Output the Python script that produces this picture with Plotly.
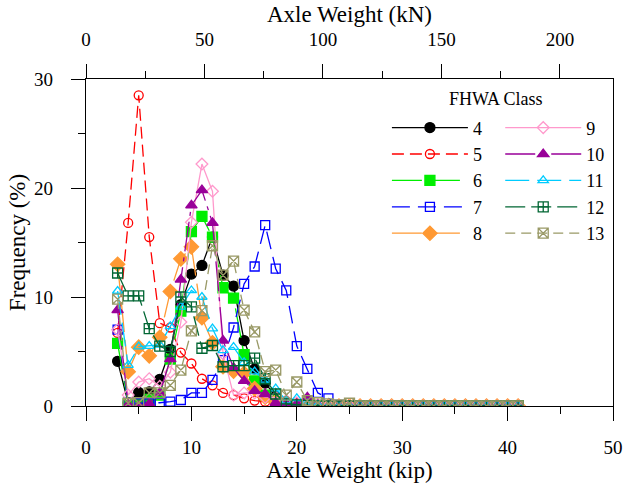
import plotly.graph_objects as go

# Axle weight bins (kip)
kip = list(range(3, 42))

def pad(vals):
    return vals + [0.0] * (len(kip) - len(vals))

class4 = pad([4.1, 0.3, 1.25, 1.3, 2.45, 5.2, 9.3, 12.1, 12.9, 15.5, 12.0, 11.0, 6.0, 3.4, 2.1, 0.9, 0.4, 0.2, 0.1, 0.05, 0.05])
class5 = pad([6.7, 16.8, 28.5, 15.5, 7.6, 7.2, 4.9, 3.9, 2.5, 1.9, 1.2, 1.0, 0.7, 0.5, 0.4, 0.25, 0.2, 0.1, 0.05])
class6 = pad([5.75, 0.2, 0.3, 0.6, 1.0, 4.3, 8.7, 16.0, 17.4, 15.5, 10.85, 9.9, 4.7, 2.3, 1.0, 0.5, 0.2, 0.1])
class7 = pad([7.0, 0.3, 0.25, 0.25, 0.3, 0.4, 0.55, 1.2, 1.2, 2.4, 4.2, 7.2, 11.2, 12.8, 16.6, 12.6, 10.6, 5.5, 3.4, 1.2, 0.7, 0.1])
class8 = pad([13.0, 3.15, 5.4, 4.6, 6.3, 10.5, 13.5, 14.6, 8.1, 5.8, 3.6, 3.2, 3.0, 1.6, 0.8, 0.4, 0.2, 0.1])
class9 = pad([7.0, 1.0, 2.2, 2.5, 1.8, 3.1, 7.7, 16.85, 22.2, 19.7, 4.8, 1.0, 1.2, 1.2, 0.8, 0.8, 0.5, 0.3, 0.2, 0.1])
class10 = pad([8.8, 0.1, 0.0, 0.2, 1.2, 4.3, 11.6, 18.4, 19.8, 16.8, 6.0, 3.5, 2.3, 1.4, 1.1, 0.3, 0.2, 0.2, 0.8, 0.1])
class11 = pad([10.55, 3.75, 5.45, 5.5, 5.6, 7.3, 9.1, 10.6, 10.0, 7.1, 5.1, 5.4, 4.0, 3.15, 2.4, 1.6, 0.5, 0.7, 0.2, 0.1])
class12 = pad([12.2, 10.1, 10.1, 7.1, 5.5, 5.0, 10.0, 9.1, 5.3, 5.55, 3.6, 3.7, 3.7, 4.4, 2.5, 1.1, 0.2, 0.1, 0.05])
class13 = pad([9.8, 0.25, 0.3, 1.2, 1.2, 1.9, 3.3, 6.9, 8.75, 14.7, 12.0, 13.3, 8.8, 6.8, 3.15, 3.3, 1.0, 2.2, 0.5, 0.3, 0.2, 0.1, 0.25])

class_names = ["4", "5", "6", "7", "8", "9", "10", "11", "12", "13"]
series = [class4, class5, class6, class7, class8, class9, class10, class11, class12, class13]

colors = ["#000000", "#FF0000", "#00EE00", "#0000FF", "#FF9933",
          "#FF99CC", "#990099", "#00CCFF", "#006633", "#999966"]
symbols = ["circle", "circle-open", "square", "square-open", "diamond",
           "diamond-open", "triangle-up", "triangle-up-open", "square-cross-open", "square-x-open"]
dashes = ["solid", "12px,6px", "30px,8px", "18px,8px", "30px,8px",
          "solid", "30px,6px,4px,6px", "24px,8px", "20px,6px", "10px,6px"]
sizes = [10, 9, 10, 9, 11, 9, 10, 9, 10, 10]
legend_ids = ["legend"] * 5 + ["legend2"] * 5

KIP_TO_KN = 4.448

fig = go.Figure()
for name, vals, c, s, d, sz, lg in zip(class_names, series, colors, symbols, dashes, sizes, legend_ids):
    fig.add_trace(go.Scatter(
        x=kip, y=vals, name=name, mode="lines+markers",
        line=dict(color=c, width=1.3, dash=d),
        marker=dict(symbol=s, size=sz, color=c, line=dict(color=c, width=1.3)),
        legend=lg,
    ))

font = "Liberation Serif, Times New Roman, serif"
legend_common = dict(
    orientation="v", xanchor="left", yanchor="top",
    itemwidth=76, font=dict(size=18), bgcolor="rgba(0,0,0,0)",
    traceorder="normal", tracegroupgap=0,
)
fig.update_layout(
    width=626, height=485,
    margin=dict(l=86, r=13, t=79, b=79),
    plot_bgcolor="white", paper_bgcolor="white",
    font=dict(family=font, size=19, color="black"),
    showlegend=True,
    legend=dict(x=0.571, y=0.907, **legend_common),
    legend2=dict(x=0.786, y=0.907, **legend_common),
    annotations=[dict(text="FHWA Class", x=0.778, y=0.94, xref="paper", yref="paper",
                      showarrow=False, font=dict(size=18), xanchor="center", yanchor="middle")],
    xaxis=dict(
        range=[0, 50], dtick=10, tick0=0, automargin=False,
        showline=True, linecolor="black", linewidth=1.2,
        ticks="outside", ticklen=14, tickcolor="black", ticklabelstandoff=10,
        minor=dict(dtick=5, ticks="outside", ticklen=7, tickcolor="black"),
        showgrid=False, zeroline=False,
        title=dict(text="Axle Weight (kip)", standoff=0),
    ),
    xaxis2=dict(
        range=[0, 50 * KIP_TO_KN], dtick=50, tick0=0, automargin=False,
        overlaying="x", side="top", anchor="y",
        showline=True, linecolor="black", linewidth=1.2,
        ticks="outside", ticklen=14, tickcolor="black", ticklabelstandoff=10,
        minor=dict(dtick=25, ticks="outside", ticklen=7, tickcolor="black"),
        showgrid=False, zeroline=False,
        title=dict(text="Axle Weight (kN)", standoff=0),
    ),
    yaxis=dict(
        range=[0, 30], dtick=10, automargin=False,
        showline=True, linecolor="black", linewidth=1.2, mirror=True,
        ticks="outside", ticklen=14, tickcolor="black", ticklabelstandoff=14,
        minor=dict(dtick=5, ticks="outside", ticklen=7, tickcolor="black"),
        showgrid=False, zeroline=False,
        title=dict(text="Frequency (%)", standoff=2),
    ),
)
# invisible helper trace to activate the top (kN) axis
fig.add_trace(go.Scatter(x=[0, 50 * KIP_TO_KN], y=[None, None], xaxis="x2", yaxis="y",
                         showlegend=False, hoverinfo="skip", mode="markers",
                         marker=dict(opacity=0)))

fig.write_html("out.html", config={"displayModeBar": False},
               post_script="document.body.style.margin='0';")
